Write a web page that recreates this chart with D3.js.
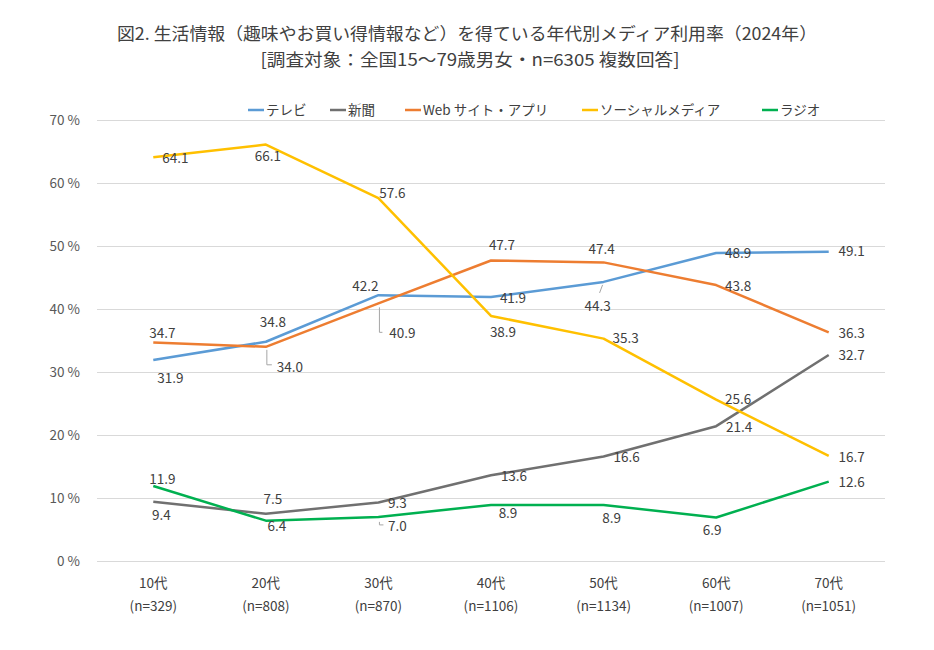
<!DOCTYPE html>
<html><head><meta charset="utf-8">
<script src="https://cdn.jsdelivr.net/npm/d3@7"></script>
<style>
body{margin:0;background:#fff;}
svg{display:block;}
text{font-family:"Noto Sans CJK JP","Noto Sans",sans-serif;}
</style></head>
<body>
<svg id="chart" width="934" height="650"></svg>
<script>
// ---- data ----
const categories = ["10代","20代","30代","40代","50代","60代","70代"];
const sampleSizes = ["(n=329)","(n=808)","(n=870)","(n=1106)","(n=1134)","(n=1007)","(n=1051)"];
const seriesNames = ["テレビ","新聞","Web サイト・アプリ","ソーシャルメディア","ラジオ"];
const tv     = [31.9, 34.8, 42.2, 41.9, 44.3, 48.9, 49.1];
const paper  = [9.4, 7.5, 9.3, 13.6, 16.6, 21.4, 32.7];
const web    = [34.7, 34.0, 40.9, 47.7, 47.4, 43.8, 36.3];
const social = [64.1, 66.1, 57.6, 38.9, 35.3, 25.6, 16.7];
const radio  = [11.9, 6.4, 7.0, 8.9, 8.9, 6.9, 12.6];
const yTicks = [0, 10, 20, 30, 40, 50, 60, 70];
const title1 = "図2. 生活情報（趣味やお買い得情報など）を得ている年代別メディア利用率（2024年）";
const title2 = "[調査対象：全国15～79歳男女・n=6305 複数回答]";

// ---- styles / layout ----
const colors = ["#5B9BD5", "#707070", "#ED7D31", "#FFC000", "#00B050"];
const seriesValues = [tv, paper, web, social, radio];
// label offsets (dx, dy) from each point, per series
const labelOffsets = [
  [[17,18],[7,-19],[-13,-9],[22,1],[-6,24],[22,0],[23,0]],
  [[8,13],[7,-14],[19,1],[23,1],[23,1],[23,1],[23,0]],
  [[9,-9],[24,20],[24,30],[11,-15],[-2,-13],[22,1],[23,1]],
  [[22,1],[2,12],[14,-5],[12,16],[22,0],[22,0],[23,1]],
  [[9,-7],[11,6],[19,9],[17,8],[8,13],[-4,13],[23,1]]
];
// leader lines: [series, index, points relative to data point]
const leaders = [
  [0, 4, [[-1,3],[-4,11]]],
  [2, 1, [[1,3],[1,18],[6,18]]],
  [2, 2, [[1,4],[1,29],[4,29]]],
  [4, 2, [[1,5],[1,8],[5,8]]]
];

const svg = d3.select("#chart");
const plotLeft = 97, plotRight = 885, plotTop = 120, plotBottom = 561;

const xBand = d3.scaleBand().domain(categories).range([plotLeft, plotRight]).padding(0);
const x = d => xBand(d) + xBand.bandwidth() / 2;
const y = d3.scaleLinear().domain([0, 70]).range([plotBottom, plotTop]);

// titles
svg.append("text").attr("x", 467).attr("y", 40).attr("text-anchor", "middle")
  .attr("font-size", 17).attr("fill", "#404040")
  .attr("textLength", 700).attr("lengthAdjust", "spacingAndGlyphs").text(title1);
svg.append("text").attr("x", 470).attr("y", 66).attr("text-anchor", "middle")
  .attr("font-size", 17).attr("fill", "#404040")
  .attr("textLength", 419).attr("lengthAdjust", "spacingAndGlyphs").text(title2);

// gridlines
svg.append("g").attr("transform", `translate(${plotLeft},0)`)
  .call(d3.axisLeft(y).tickValues(yTicks).tickSize(-(plotRight - plotLeft)).tickFormat(""))
  .call(g => g.select(".domain").remove())
  .call(g => g.selectAll("line").attr("stroke", "#d9d9d9").attr("stroke-width", 1));

// y axis labels
svg.append("g").attr("transform", `translate(${plotLeft},0)`)
  .call(d3.axisLeft(y).tickValues(yTicks).tickSize(0).tickPadding(17).tickFormat(d => d + " %"))
  .call(g => g.select(".domain").remove())
  .call(g => g.selectAll("text").attr("font-size", 13.5).attr("fill", "#595959")
    .attr("font-family", "'Noto Sans', sans-serif"));

// x axis labels
const xg = svg.append("g").attr("transform", `translate(0,${plotBottom})`)
  .call(d3.axisBottom(xBand).tickSize(0).tickPadding(0).tickFormat(""));
xg.select(".domain").remove();
xg.selectAll(".tick").each(function(d, i) {
  const g = d3.select(this);
  g.select("text").remove();
  g.append("text").attr("y", 27).attr("text-anchor", "middle").attr("font-size", 13.5)
    .attr("fill", "#404040").text(d);
  g.append("text").attr("y", 50).attr("text-anchor", "middle").attr("font-size", 13.5)
    .attr("fill", "#404040").text(sampleSizes[i]);
});

// lines
const line = d3.line().x((d, i) => x(categories[i])).y(d => y(d));
seriesValues.forEach((vals, s) => {
  svg.append("path").datum(vals).attr("d", line).attr("fill", "none")
    .attr("stroke", colors[s]).attr("stroke-width", 2.5).attr("stroke-linejoin", "round");
});

// leader lines
leaders.forEach(([s, i, pts]) => {
  const px = x(categories[i]), py = y(seriesValues[s][i]);
  svg.append("polyline")
    .attr("points", pts.map(p => (px + p[0]) + "," + (py + p[1])).join(" "))
    .attr("fill", "none").attr("stroke", "#a6a6a6").attr("stroke-width", 1);
});

// data labels
seriesValues.forEach((vals, s) => {
  svg.append("g").selectAll("text").data(vals).join("text")
    .attr("x", (d, i) => x(categories[i]) + labelOffsets[s][i][0])
    .attr("y", (d, i) => y(d) + labelOffsets[s][i][1])
    .attr("dy", "0.35em").attr("text-anchor", "middle")
    .attr("font-size", 13.5).attr("fill", "#404040")
    .attr("font-family", "'Noto Sans', sans-serif")
    .text(d => d.toFixed(1));
});

// legend
const legendX = [248, 330, 405, 582, 762];
const lg = svg.append("g").attr("transform", "translate(0,110)");
seriesNames.forEach((name, s) => {
  lg.append("line").attr("x1", legendX[s]).attr("x2", legendX[s] + 16)
    .attr("stroke", colors[s]).attr("stroke-width", 2.5);
  lg.append("text").attr("x", legendX[s] + 18).attr("dy", "0.35em")
    .attr("font-size", 13.5).attr("fill", "#404040").text(name);
});
</script>
</body></html>
